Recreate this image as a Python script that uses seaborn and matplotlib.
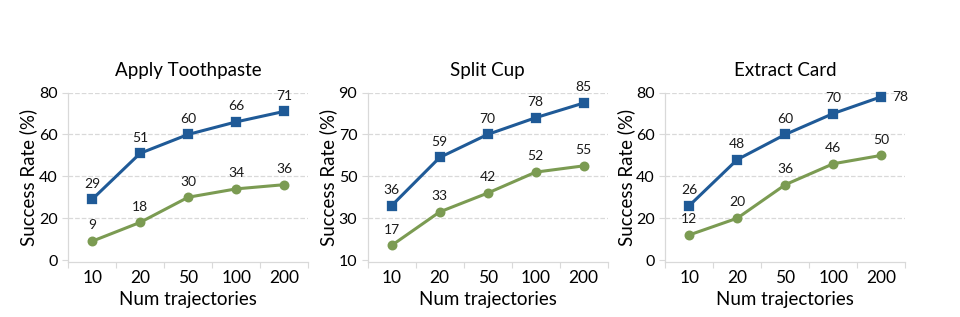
import pandas as pd
import matplotlib.pyplot as plt
import seaborn as sns
from matplotlib.ticker import FixedLocator


trajectories = ['10', '20', '50', '100', '200']
tasks = ['Apply Toothpaste', 'Split Cup', 'Extract Card']

upper_rates = {
    'Apply Toothpaste': [29, 51, 60, 66, 71],
    'Split Cup': [36, 59, 70, 78, 85],
    'Extract Card': [26, 48, 60, 70, 78],
}
lower_rates = {
    'Apply Toothpaste': [9, 18, 30, 34, 36],
    'Split Cup': [17, 33, 42, 52, 55],
    'Extract Card': [12, 20, 36, 46, 50],
}
y_ticks = {
    'Apply Toothpaste': [0, 20, 40, 60, 80],
    'Split Cup': [10, 30, 50, 70, 90],
    'Extract Card': [0, 20, 40, 60, 80],
}

blue = '#1F5A97'
green = '#7B9B52'

sns.set_theme(style='white')
plt.rcParams['font.family'] = ['Lato', 'DejaVu Sans']

fig = plt.figure(figsize=(9.6, 3.17), dpi=100)
lefts = [0.071, 0.383, 0.693]
width = 0.250

for task, left in zip(tasks, lefts):
    ax = fig.add_axes([left, 0.173, width, 0.535])
    df = pd.DataFrame({
        'traj': trajectories * 2,
        'rate': upper_rates[task] + lower_rates[task],
        'series': ['upper'] * 5 + ['lower'] * 5,
    })
    sns.pointplot(data=df, x='traj', y='rate', hue='series', order=trajectories,
                  palette={'upper': blue, 'lower': green}, markers=['s', 'o'],
                  markersize=5.5, linewidth=2.2, legend=False, ax=ax)
    for line in ax.lines:
        line.set_clip_on(False)

    for i, v in enumerate(upper_rates[task]):
        if task == 'Extract Card' and i == 4:
            ax.annotate(str(v), (i, v), xytext=(8, 0), textcoords='offset points',
                        ha='left', va='center', fontsize=10, color='#1a1a1a')
        else:
            ax.annotate(str(v), (i, v), xytext=(0, 7), textcoords='offset points',
                        ha='center', va='bottom', fontsize=10, color='#1a1a1a')
    for i, v in enumerate(lower_rates[task]):
        ax.annotate(str(v), (i, v), xytext=(0, 7), textcoords='offset points',
                    ha='center', va='bottom', fontsize=10, color='#1a1a1a')

    yt = y_ticks[task]
    ax.set_ylim(yt[0] - 1, yt[-1])
    ax.set_yticks(yt)
    ax.set_xlim(-0.5, 4.5)
    ax.xaxis.set_minor_locator(FixedLocator([-0.5, 0.5, 1.5, 2.5, 3.5, 4.5]))
    ax.tick_params(axis='x', which='major', length=0, labelsize=12.5, pad=6, colors='#000000')
    ax.tick_params(axis='x', which='minor', length=4, width=0.8, color='#d9d9d9', bottom=True)
    ax.tick_params(axis='y', length=4, width=0.8, color='#d9d9d9', labelsize=11.5, colors='#000000', left=True)
    for y in yt[1:]:
        ax.axhline(y, color='#d9d9d9', linestyle='--', linewidth=0.9, zorder=0)

    for s in ['top', 'right']:
        ax.spines[s].set_visible(False)
    for s in ['left', 'bottom']:
        ax.spines[s].set_color('#d9d9d9')
        ax.spines[s].set_linewidth(0.9)

    ax.set_title(task, fontsize=13.5, pad=12, color='#000000')
    ax.set_xlabel('Num trajectories', fontsize=13.5, color='#000000', labelpad=3)
    ax.set_ylabel('Success Rate (%)', fontsize=13.5, color='#000000', labelpad=1)

fig.savefig('out.png', dpi=100)
